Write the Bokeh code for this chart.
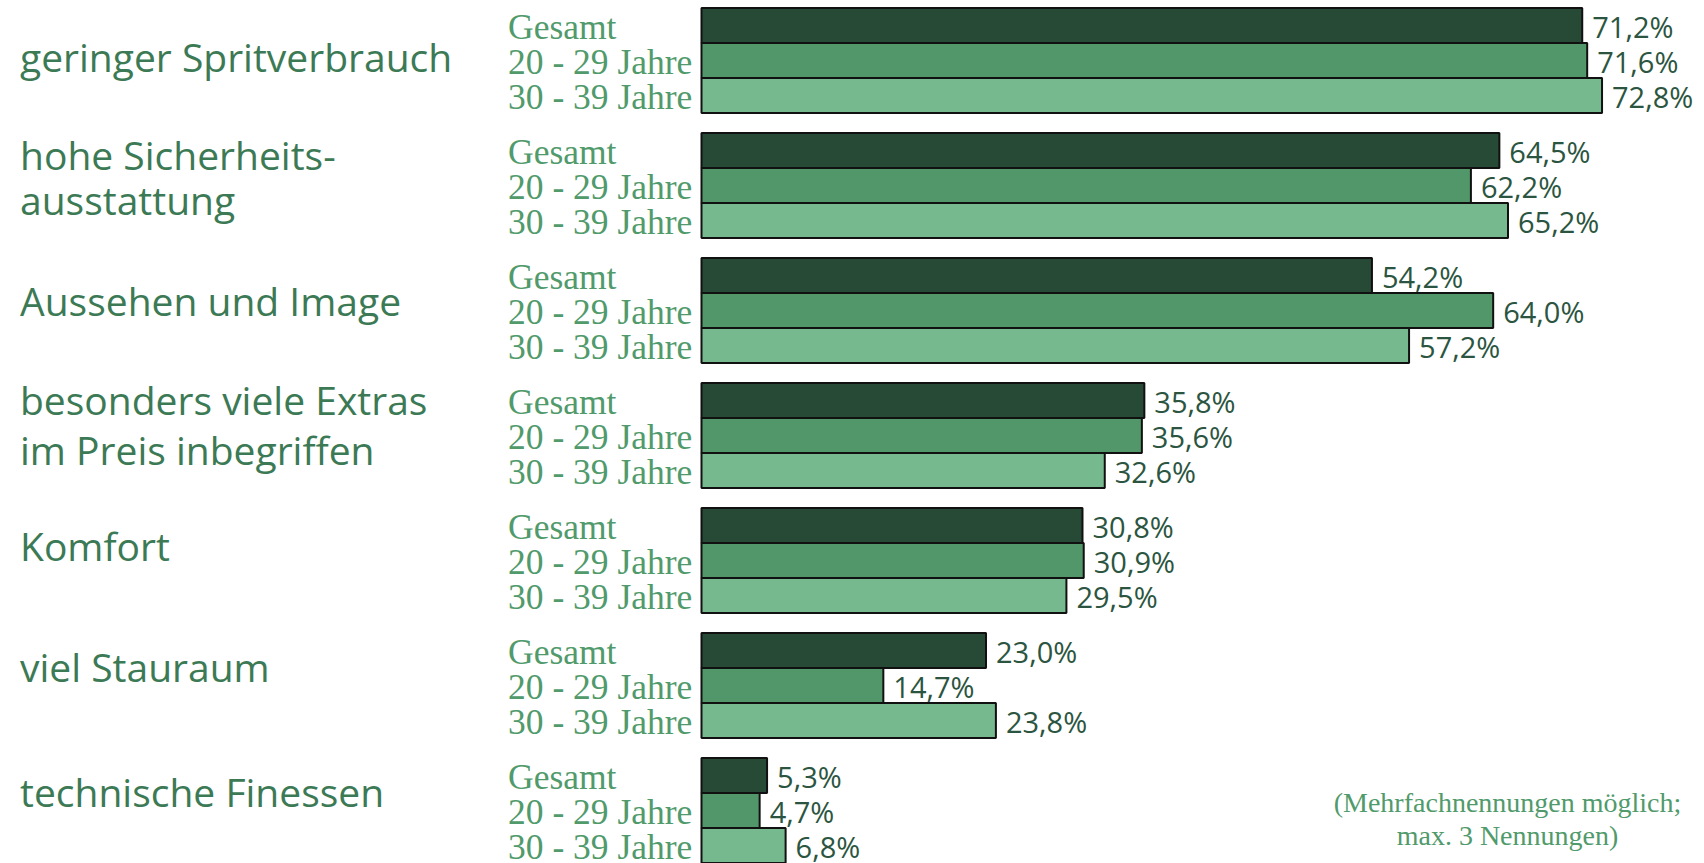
from bokeh.plotting import figure
from bokeh.models import Range1d, ColumnDataSource
from bokeh.core.properties import value
from bokeh.embed import file_html
from bokeh.resources import INLINE

# ---------------- data ----------------
categories = [
    "geringer Spritverbrauch",
    "hohe Sicherheits-\nausstattung",
    "Aussehen und Image",
    "besonders viele Extras\nim Preis inbegriffen",
    "Komfort",
    "viel Stauraum",
    "technische Finessen",
]
groups = ["Gesamt", "20 - 29 Jahre", "30 - 39 Jahre"]
gesamt = [71.2, 64.5, 54.2, 35.8, 30.8, 23.0, 5.3]
jahre_20_29 = [71.6, 62.2, 64.0, 35.6, 30.9, 14.7, 4.7]
jahre_30_39 = [72.8, 65.2, 57.2, 32.6, 29.5, 23.8, 6.8]
note_lines = ["(Mehrfachnennungen möglich;", "max. 3 Nennungen)"]

series = [gesamt, jahre_20_29, jahre_30_39]
colors = ["#264a35", "#51976a", "#76b98e"]

# ---------------- layout ----------------
W, H = 1704, 863
PX = 12.37          # pixels per percent
X0 = 701            # pixel position of 0 %
TOP = 7.6           # pixel top of first bar
PERIOD = 125        # pixel pitch of a category group
BH = 35             # pixel height of a bar
label_nudge = [-4, -8.5, -10, -11, -15, -19.5, -19.5]   # category label vertical nudge (px)
line_gap = [0, 45, 0, 50, 0, 0, 0]                      # spacing of two-line labels (px)

p = figure(width=W, height=H, output_backend="svg", toolbar_location=None,
           x_range=Range1d(-X0 / PX, (W - X0) / PX),
           y_range=Range1d(H, 0), min_border=0)
p.axis.visible = False
p.xgrid.visible = False
p.ygrid.visible = False
p.outline_line_color = None
p.background_fill_color = "white"
p.border_fill_color = "white"

ys, vals, cols, glabels, labels = [], [], [], [], []
for i, cat in enumerate(categories):
    for j, s in enumerate(series):
        ys.append(TOP + i * PERIOD + (j + 0.5) * BH)
        vals.append(s[i])
        cols.append(colors[j])
        glabels.append(groups[j])
        labels.append(f"{s[i]:.1f}%".replace(".", ","))

src = ColumnDataSource(dict(y=ys, v=vals, c=cols, g=glabels, lab=labels,
                            zero=[0] * len(ys)))

p.hbar(y="y", left=0, right="v", height=BH, fill_color="c",
       line_color="#111111", line_width=2, source=src)

# value labels
p.text(x="v", y="y", text="lab", source=src, x_offset=10, y_offset=1,
       text_font=value("Open Sans"), text_font_size="29px",
       text_color="#2b5540", text_align="left", text_baseline="alphabetic")

# group labels
p.text(x="zero", y="y", text="g", source=src, x_offset=-193.5, y_offset=1,
       text_font=value("Liberation Serif"), text_font_size="35.5px",
       text_color="#509a6b", text_align="left", text_baseline="alphabetic")

# category labels
cx, cy, ct = [], [], []
for i, cat in enumerate(categories):
    lines = cat.split("\n")
    center = TOP + i * PERIOD + 1.5 * BH + label_nudge[i]
    n = len(lines)
    for k, ln in enumerate(lines):
        cx.append(0)
        cy.append(center + (k - (n - 1) / 2) * line_gap[i])
        ct.append(ln)
p.text(x=cx, y=cy, text=ct, x_offset=-681.5, y_offset=0,
       text_font=value("Open Sans"), text_font_size="39px",
       text_color="#3c7a55", text_align="left", text_baseline="alphabetic")

# footnote
last_top = TOP + (len(categories) - 1) * PERIOD
p.text(x=[(1507 - X0) / PX] * 2,
       y=[last_top + 44.4, last_top + 77.4], text=note_lines,
       text_font=value("Liberation Serif"), text_font_size="28px",
       text_color="#509a6b", text_align="center", text_baseline="middle")

open("out.html", "w").write(file_html(p, INLINE))
